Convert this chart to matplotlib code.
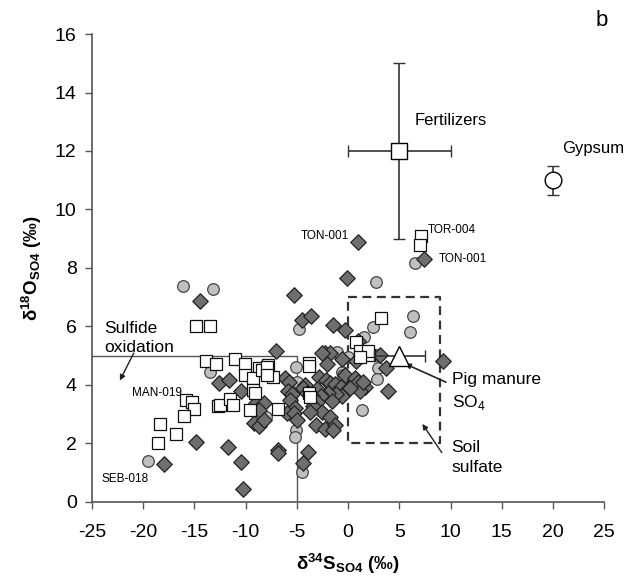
import matplotlib
matplotlib.use("Agg")
import matplotlib.pyplot as plt

plt.rcParams['font.family'] = ['Liberation Sans', 'DejaVu Sans']
plt.rcParams['mathtext.fontset'] = 'custom'
plt.rcParams['mathtext.rm'] = 'Liberation Sans'
plt.rcParams['mathtext.bf'] = 'Liberation Sans:bold'
plt.rcParams['axes.unicode_minus'] = False

# groundwater samples: open squares
sq_x = [-14.8, -13.5, -13.9, -12.9, -11.0, -10.1, -8.7, -7.8, -7.3, -10.1, -9.3, -8.4, -7.9, -7.9,
        -9.3, -9.1, -12.7, -12.5, -11.5, -11.2, -15.8, -15.2, -15.0, -16.0, -9.6, -6.8,
        -18.4, -16.8, -18.6, -3.8, -3.8, -3.8, -3.7, 0.8, 1.2, 2.0, 1.9, 1.2, 3.2, 7.1, 7.0]
sq_y = [6.0, 6.0, 4.83, 4.72, 4.88, 4.72, 4.57, 4.68, 4.28, 4.34, 4.23, 4.49, 4.62, 4.34,
        3.83, 3.73, 3.28, 3.31, 3.5, 3.31, 3.48, 3.42, 3.16, 2.93, 3.12, 3.16,
        2.66, 2.32, 2.02, 4.74, 4.65, 3.73, 3.58, 5.48, 5.14, 5.02, 5.17, 4.94, 6.27, 9.08, 8.77]

# dark grey diamonds
di_x = [1.0, 7.4, -0.15, -5.3, -14.5, -4.5, -3.6, -1.5, -0.3, 1.0, -7.0,
        -12.6, -11.6, -10.5, -9.0, -8.2, -8.7, -9.2, -8.7, -8.2,
        -6.15, -5.8, -5.9, -5.5, -5.7, -5.2, -6.0, -5.3, -5.0,
        -2.25, -1.76, -2.57, -0.62, -2.08, 0.78, -0.3,
        -2.8, -2.15, -1.76, -1.27, -0.71, -0.2, -0.62, -1.17, -1.92, -2.73, -3.06, -2.67, -1.6,
        0.68, 1.0, 1.66, 1.17, 0.2, 1.5,
        -4.2, -4.42, -4.03, -3.55, -3.06, -3.39, -2.57, -3.71,
        -3.13, -2.25, -1.76, -1.27, -1.43, -3.87, -4.42,
        3.13, 3.71, 3.94, 9.24,
        -14.85, -11.7, -10.5, -6.8, -6.8, -10.3, -18.0]
di_y = [8.87, 8.32, 7.65, 7.08, 6.88, 6.23, 6.36, 6.05, 5.88, 5.5, 5.17,
        4.05, 4.18, 3.77, 3.39, 3.37, 3.13, 2.7, 2.6, 2.78,
        4.23, 4.08, 3.8, 3.69, 3.48, 3.2, 3.05, 3.03, 2.8,
        5.08, 5.1, 5.1, 4.88, 4.72, 4.8, 4.34,
        4.26, 4.15, 4.05, 4.03, 3.94, 3.8, 3.6, 3.69, 3.71, 3.69, 3.85, 3.6, 3.46,
        4.22, 4.11, 3.94, 3.77, 3.88, 4.1,
        4.0, 3.88, 3.71, 3.6, 3.42, 3.28, 3.08, 3.08,
        2.63, 2.48, 2.91, 2.63, 2.46, 1.71, 1.31,
        5.02, 4.57, 3.77, 4.82,
        2.03, 1.87, 1.37, 1.77, 1.66, 0.42, 1.3]

# light grey circles
ci_x = [-16.1, -13.2, 6.54, 2.73, 6.3, 6.0, 2.47, -4.8, 1.6, -13.5, -8.0,
        -5.1, -5.0, -5.1, -5.2, -1.1, 0.03, -0.62, -0.46,
        2.86, 2.96, 2.86, 1.5, 1.34, -4.52, -19.5]
ci_y = [7.38, 7.27, 8.16, 7.5, 6.37, 5.81, 5.98, 5.9, 5.62, 4.45, 2.91,
        4.62, 4.08, 2.45, 2.2, 5.12, 4.94, 4.45, 4.34,
        5.02, 4.57, 4.19, 3.88, 3.12, 1.03, 1.4]

# end members (x, y, x err, y err)
fert = (5, 12, 5, 3)
gyps = (20, 11, 0, 0.5)
pig = (5, 5, 2.5, 0)

fig = plt.figure(figsize=(6.3, 5.82), dpi=100)
ax = fig.add_axes([0.146, 0.138, 0.813, 0.8035])

# sulfide oxidation field and soil sulfate box
ax.plot([-25, -5, -5], [5, 5, 0], color='#555555', lw=1, zorder=1)
ax.plot([0, 9, 9, 0, 0], [7, 7, 2, 2, 7], color='#333333', lw=1.6, ls=(0, (4, 2.5)), zorder=1)

ax.scatter(ci_x, ci_y, s=70, marker='o', facecolor='#c0c0c0', edgecolor='#444444', lw=0.9, zorder=3)
ax.scatter(di_x, di_y, s=62, marker='D', facecolor='#6e6e6e', edgecolor='#222222', lw=0.9, zorder=4)
ax.scatter(sq_x, sq_y, s=75, marker='s', facecolor='white', edgecolor='#111111', lw=0.9, zorder=5)

ax.errorbar(fert[0], fert[1], xerr=fert[2], yerr=fert[3], fmt='s', ms=12, mfc='white', mec='black',
            ecolor='#333333', elinewidth=1.2, capsize=4, mew=1, zorder=6)
ax.errorbar(gyps[0], gyps[1], yerr=gyps[3], fmt='o', ms=12, mfc='white', mec='black',
            ecolor='#333333', elinewidth=1.2, capsize=4, mew=1, zorder=6)
ax.errorbar(pig[0], pig[1], xerr=pig[2], fmt='^', ms=15, mfc='white', mec='black',
            ecolor='#333333', elinewidth=1.2, capsize=4, mew=1, zorder=6)

ax.text(6.5, 13.05, 'Fertilizers', fontsize=12, va='center')
ax.text(20.9, 12.1, 'Gypsum', fontsize=12, va='center')
ax.text(-23.8, 5.6, 'Sulfide\noxidation', fontsize=12.5, va='center', linespacing=1.3)
ax.text(10.1, 3.75, 'Pig manure\nSO$_4$', fontsize=12.5, va='center', linespacing=1.4)
ax.text(10.1, 1.5, 'Soil\nsulfate', fontsize=12.5, va='center', linespacing=1.4)
ax.annotate('', xy=(-22.4, 4.06), xytext=(-20.8, 5.17),
            arrowprops=dict(arrowstyle='-|>', color='#222222', lw=1, mutation_scale=8))
ax.annotate('', xy=(5.3, 4.76), xytext=(9.8, 4.05),
            arrowprops=dict(arrowstyle='-|>', color='#222222', lw=1.2, mutation_scale=8))
ax.annotate('', xy=(7.1, 2.74), xytext=(9.3, 1.6),
            arrowprops=dict(arrowstyle='-|>', color='#222222', lw=1, mutation_scale=8))

ax.text(0.1, 9.1, 'TON-001', fontsize=8.5, ha='right', va='center')
ax.text(7.8, 9.3, 'TOR-004', fontsize=8.5, va='center')
ax.text(8.9, 8.32, 'TON-001', fontsize=8.5, va='center')
ax.text(-21.1, 3.72, 'MAN-019', fontsize=8.5, va='center')
ax.text(-24.1, 0.77, 'SEB-018', fontsize=8.5, va='center')
fig.text(0.955, 0.965, 'b', fontsize=16, ha='center', va='center')

ax.set_xlim(-25, 25)
ax.set_ylim(0, 16)
ax.set_xticks(range(-25, 26, 5))
ax.set_yticks(range(0, 17, 2))
ax.tick_params(labelsize=14, length=5, width=1, color='#555555')
ax.tick_params(axis='x', pad=11)
ax.tick_params(axis='y', pad=6)
for side in ['top', 'right']:
    ax.spines[side].set_visible(False)
for side in ['left', 'bottom']:
    ax.spines[side].set_color('#555555')
    ax.spines[side].set_linewidth(1.2)

ax.set_xlabel(r'$\mathbf{δ^{34}S_{SO4}}$ (‰)', fontsize=13.5, fontweight='bold', labelpad=8)
ax.set_ylabel(r'$\mathbf{δ^{18}O_{SO4}}$ (‰)', fontsize=13.5, fontweight='bold', labelpad=8)

fig.savefig('out.png', dpi=100)
